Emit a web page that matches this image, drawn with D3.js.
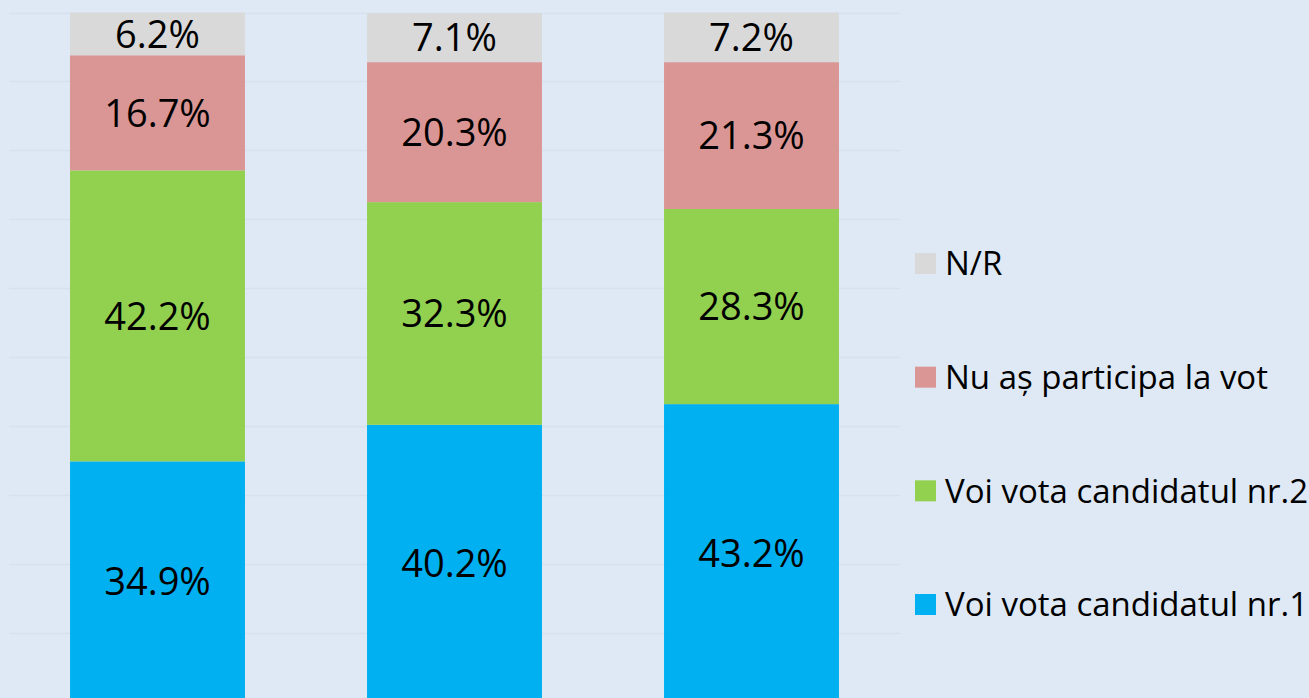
<!DOCTYPE html>
<html>
<head>
<meta charset="utf-8">
<script src="https://cdn.jsdelivr.net/npm/d3@7"></script>
<style>
    html, body { margin: 0; padding: 0; background: #dee9f5; }
    svg { display: block; font-family: "Open Sans", sans-serif; }
</style>
</head>
<body>
<div id="chart"></div>
<script>
// data
const categories = ["A", "B", "C"];
const seriesNames = ["Voi vota candidatul nr.1", "Voi vota candidatul nr.2", "Nu aș participa la vot", "N/R"];
const candidat1 = [34.9, 40.2, 43.2];
const candidat2 = [42.2, 32.3, 28.3];
const nuParticip = [16.7, 20.3, 21.3];
const nr = [6.2, 7.1, 7.2];
const yTicks = [0, 10, 20, 30, 40, 50, 60, 70, 80, 90, 100];

const colors = ["#00b0f0", "#92d050", "#da9694", "#d9d9d9"];
const seriesValues = [candidat1, candidat2, nuParticip, nr];

const width = 1309, height = 698;

let svg = d3.select("#chart").append("svg")
    .attr("width", width)
    .attr("height", height);

svg.append("rect")
    .attr("width", width).attr("height", height)
    .attr("fill", "#dee9f5");

let x = d3.scaleBand().domain(categories).range([9, 900])
        .paddingInner(0.411).paddingOuter(0.2055),
    y = d3.scaleLinear().domain([0, 100]).range([702, 12.5]);

// gridlines
svg.append("g")
    .selectAll("line")
    .data(yTicks)
    .enter().append("line")
    .attr("x1", 9).attr("x2", 900)
    .attr("y1", d => Math.round(y(d)) + 0.5)
    .attr("y2", d => Math.round(y(d)) + 0.5)
    .attr("stroke", "#d5e1ee")
    .attr("stroke-width", 1.5);

// stack the rows
let rows = categories.map((c, i) => {
    let row = { cat: c };
    seriesNames.forEach((s, j) => { row[s] = seriesValues[j][i]; });
    return row;
});
let stacked = d3.stack().keys(seriesNames)(rows);

let layers = svg.selectAll(".layer")
    .data(stacked)
    .enter().append("g")
    .attr("class", "layer")
    .attr("fill", (d, i) => colors[i]);

layers.selectAll("rect")
    .data(d => d)
    .enter().append("rect")
    .attr("x", d => x(d.data.cat))
    .attr("y", d => y(d[1]))
    .attr("width", x.bandwidth())
    .attr("height", d => y(d[0]) - y(d[1]));

let fmt = d3.format(".1f");
layers.selectAll("text")
    .data(d => d.map(p => ({ p: p, v: p[1] - p[0] })))
    .enter().append("text")
    .attr("x", d => x(d.p.data.cat) + x.bandwidth() / 2)
    .attr("y", d => (y(d.p[0]) + y(d.p[1])) / 2)
    .attr("dy", "0.36em")
    .attr("text-anchor", "middle")
    .attr("fill", "#000")
    .style("font-size", "38px")
    .text(d => fmt(d.v) + "%");

// legend (reverse order, N/R on top)
let legendY = d3.scalePoint().domain(seriesNames.slice().reverse()).range([263.5, 604.5]);

let legend = svg.append("g").selectAll("g")
    .data(seriesNames)
    .enter().append("g")
    .attr("transform", d => "translate(915," + legendY(d) + ")");

legend.append("rect")
    .attr("x", 0).attr("y", -10.5)
    .attr("width", 21).attr("height", 21)
    .attr("fill", (d, i) => colors[i]);

legend.append("text")
    .attr("x", 30)
    .attr("dy", "0.36em")
    .style("font-size", "33px")
    .attr("fill", "#000")
    .text(d => d);
</script>
</body>
</html>
